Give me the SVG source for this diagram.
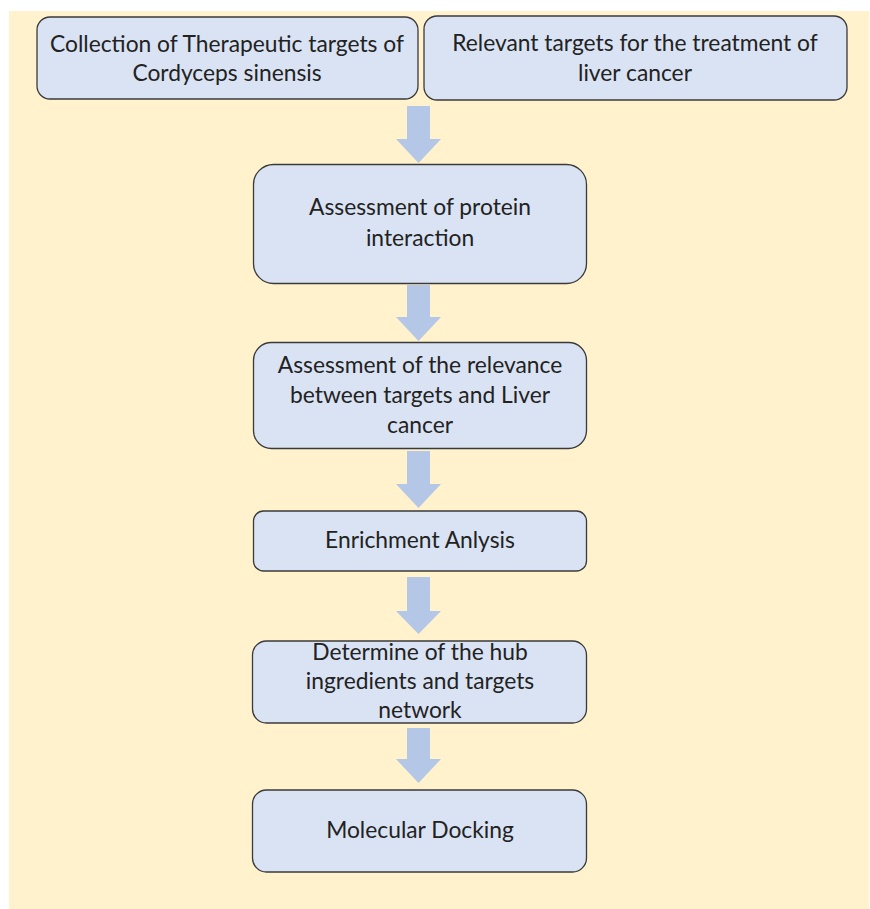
<svg xmlns="http://www.w3.org/2000/svg" width="870" height="909" viewBox="0 0 870 909">
<style>
.bg{fill:#fff2cc}
.box{fill:#dae3f3;stroke:#3a3a3a;stroke-width:1.3}
.arr{fill:#b4c7e7}
text{font-family:"Lato","Liberation Sans",sans-serif;font-size:22.8px;fill:#222;text-anchor:middle}
</style>
<rect class="bg" x="9" y="11" width="860" height="898"/>
<g id="connectors">
<polygon class="arr" points="407,106 430,106 430,139 441,139 418.5,163 396,139 407,139"/>
<polygon class="arr" points="407,285 430,285 430,317 441,317 418.5,341 396,317 407,317"/>
<polygon class="arr" points="407,451 430,451 430,484 441,484 418.5,508 396,484 407,484"/>
<polygon class="arr" points="407,577 430,577 430,611 441,611 418.5,634 396,611 407,611"/>
<polygon class="arr" points="407,728 430,728 430,759 441,759 418.5,783 396,759 407,759"/>
</g>
<g id="n1">
<rect class="box" x="37" y="17" width="381" height="82" rx="13"/>
<text x="227" y="52">Collection of Therapeutic targets of</text>
<text x="227" y="81">Cordyceps sinensis</text>
</g>
<g id="n2">
<rect class="box" x="424" y="16" width="423" height="84" rx="13"/>
<text x="635" y="51">Relevant targets for the treatment of</text>
<text x="635" y="81">liver cancer</text>
</g>
<g id="n3">
<rect class="box" x="253.5" y="164.5" width="333" height="119" rx="20"/>
<text x="420" y="215">Assessment of protein</text>
<text x="420" y="246">interaction</text>
</g>
<g id="n4">
<rect class="box" x="253.5" y="342.5" width="333" height="106" rx="18"/>
<text x="420" y="373">Assessment of the relevance</text>
<text x="420" y="403">between targets and Liver</text>
<text x="420" y="433">cancer</text>
</g>
<g id="n5">
<rect class="box" x="253.5" y="511" width="333" height="60" rx="10"/>
<text x="420" y="548">Enrichment Anlysis</text>
</g>
<g id="n6">
<rect class="box" x="252.5" y="641" width="334" height="82" rx="14"/>
<text x="420" y="660">Determine of the hub</text>
<text x="420" y="689">ingredients and targets</text>
<text x="420" y="718">network</text>
</g>
<g id="n7">
<rect class="box" x="252.5" y="790" width="334" height="82" rx="14"/>
<text x="420" y="838">Molecular Docking</text>
</g>
</svg>
